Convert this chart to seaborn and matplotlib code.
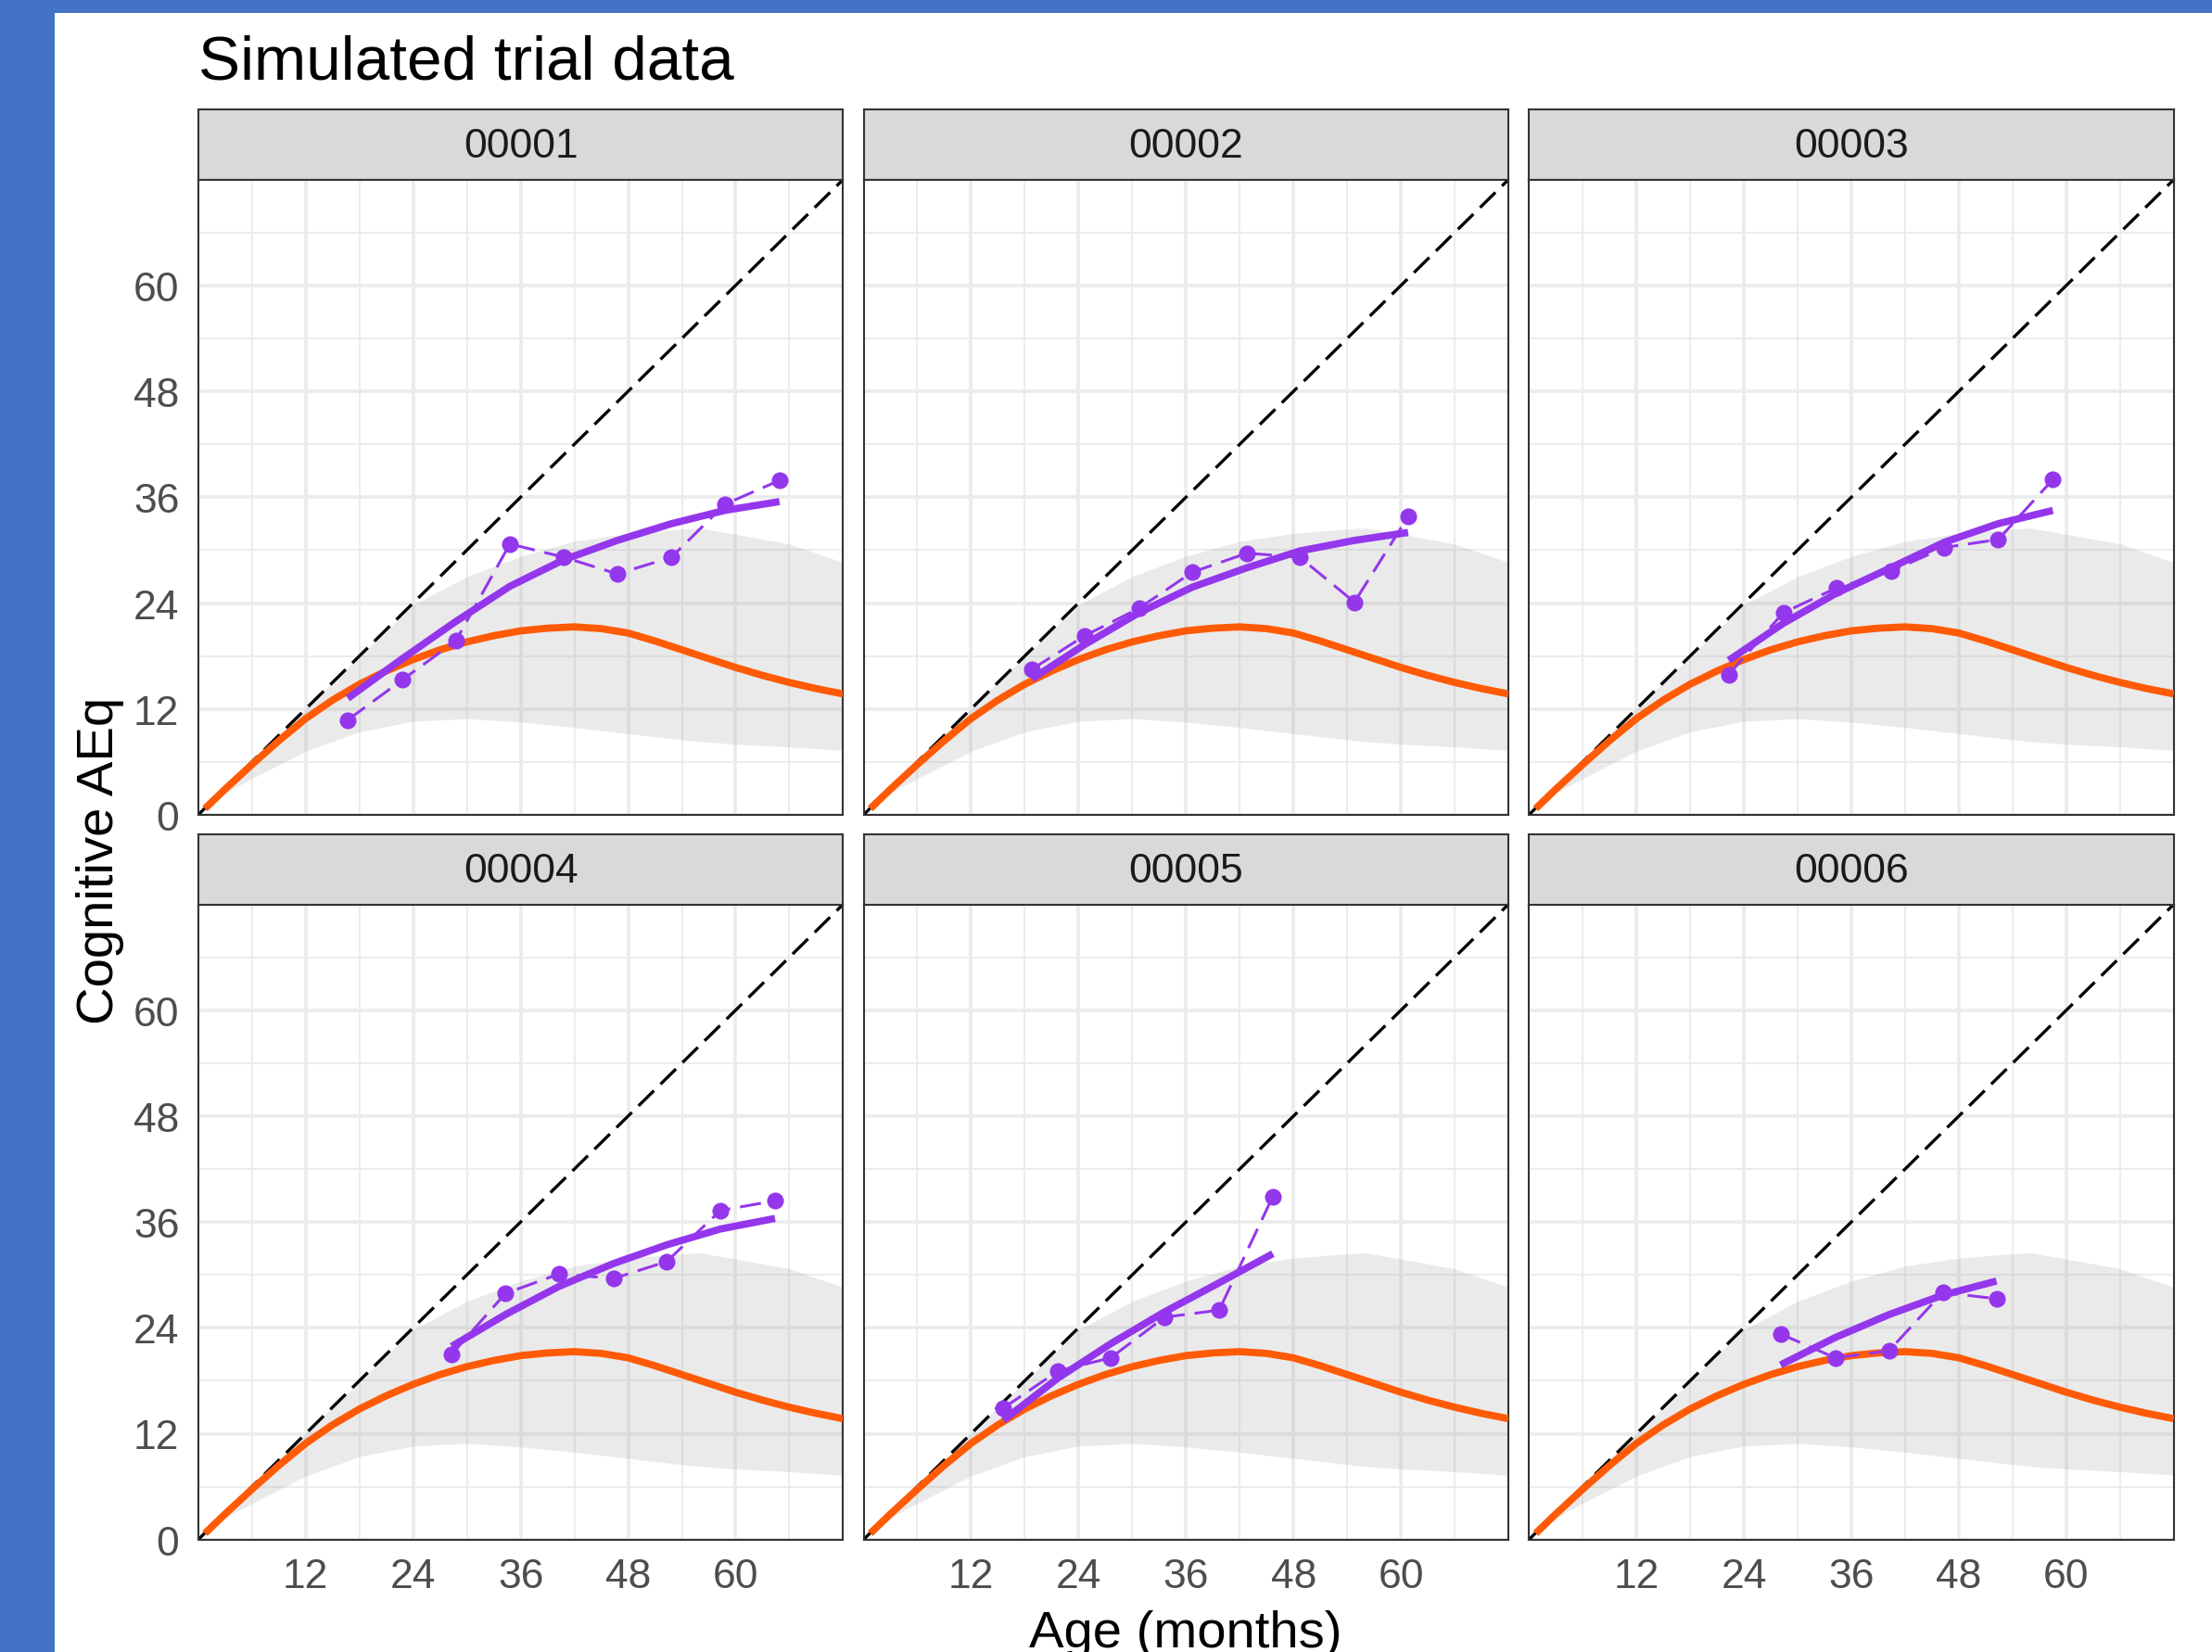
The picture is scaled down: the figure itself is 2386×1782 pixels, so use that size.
import numpy as np
import pandas as pd
import matplotlib
matplotlib.use("Agg")
import matplotlib.pyplot as plt
import seaborn as sns
from matplotlib.patches import Rectangle

# ---------------- data ----------------
participants = ["00001", "00002", "00003", "00004", "00005", "00006"]

# reference (population) curve, orange
ref_age = [0.75, 3, 6, 9, 12, 15, 18, 21, 24, 27, 30, 33, 36, 39, 42, 45, 48,
           51, 54, 57, 60, 63, 66, 69, 72]
ref_aeq = [0.7, 2.9, 5.7, 8.4, 10.9, 13.0, 14.8, 16.3, 17.6, 18.7, 19.6, 20.3,
           20.85, 21.15, 21.3, 21.1, 20.6, 19.7, 18.7, 17.7, 16.7, 15.8, 15.0,
           14.3, 13.7]

# reference band (grey ribbon)
band_age = [0, 3, 6, 12, 18, 24, 30, 36, 42, 48, 54, 56, 60, 66, 72]
band_lower = [0, 2.5, 4.1, 7.2, 9.4, 10.6, 10.9, 10.5, 9.9, 9.2, 8.5, 8.3, 8.0, 7.7, 7.3]
band_upper = [0, 3.05, 6.1, 12.1, 17.9, 23.8, 27.0, 29.3, 31.0, 31.9, 32.4, 32.5, 31.8, 30.7, 28.6]

# per participant: observation ages, observed AEq, fitted AEq
age_00001 = [16.7, 22.8, 28.75, 34.8, 40.8, 46.8, 52.85, 58.8, 64.9]
obs_00001 = [10.75, 15.3, 19.7, 30.7, 29.2, 27.3, 29.2, 35.2, 37.9]
fit_00001 = [13.2, 17.7, 21.9, 25.9, 28.9, 31.1, 33.0, 34.5, 35.5]

age_00002 = [18.8, 24.7, 30.75, 36.7, 42.8, 48.7, 54.8, 60.8]
obs_00002 = [16.5, 20.3, 23.4, 27.5, 29.65, 29.2, 24.1, 33.8]
fit_00002 = [15.4, 19.3, 22.9, 25.8, 28.0, 29.9, 31.1, 32.0]

age_00003 = [22.3, 28.4, 34.3, 40.4, 46.4, 52.4, 58.5]
obs_00003 = [15.9, 22.9, 25.7, 27.6, 30.3, 31.2, 38.0]
fit_00003 = [17.5, 21.7, 25.1, 28.0, 30.9, 33.0, 34.5]

age_00004 = [28.3, 34.3, 40.3, 46.4, 52.3, 58.3, 64.4]
obs_00004 = [21.0, 27.9, 30.1, 29.6, 31.5, 37.3, 38.4]
fit_00004 = [21.9, 25.5, 28.7, 31.3, 33.4, 35.2, 36.4]

age_00005 = [15.6, 21.7, 27.6, 33.6, 39.7, 45.7]
obs_00005 = [14.9, 19.1, 20.6, 25.2, 26.0, 38.9]
fit_00005 = [13.5, 18.3, 22.2, 25.8, 29.1, 32.4]

age_00006 = [28.1, 34.2, 40.2, 46.2, 52.2]
obs_00006 = [23.3, 20.6, 21.4, 28.0, 27.3]
fit_00006 = [19.8, 22.9, 25.5, 27.7, 29.3]

x_breaks = [12, 24, 36, 48, 60]
x_minor = [6, 18, 30, 42, 54, 66]
y_breaks = [0, 12, 24, 36, 48, 60]
y_minor = [6, 18, 30, 42, 54, 66]

# ---------------- tables ----------------
ages = [age_00001, age_00002, age_00003, age_00004, age_00005, age_00006]
obss = [obs_00001, obs_00002, obs_00003, obs_00004, obs_00005, obs_00006]
fits = [fit_00001, fit_00002, fit_00003, fit_00004, fit_00005, fit_00006]
rows = []
for pid, a, o, f in zip(participants, ages, obss, fits):
    for ai, oi, fi in zip(a, o, f):
        rows.append({"id": pid, "age": ai, "obs": oi, "fit": fi})
df = pd.DataFrame(rows)
ref_df = pd.DataFrame({"age": ref_age, "aeq": ref_aeq})

# ---------------- style ----------------
sns.set_style("white")
plt.rcParams["font.family"] = ["Liberation Sans", "DejaVu Sans"]
plt.rcParams["lines.solid_capstyle"] = "butt"

W, H, DPI = 2386, 1783, 100
PURPLE = "#9437EC"
ORANGE = "#FF5A05"
GRID = "#EBEBEB"
DARK = "#333333"

fig = plt.figure(figsize=(W / DPI, H / DPI), dpi=DPI, facecolor="#4472C4")
fig.patches.append(Rectangle((59 / W, 0), 1 - 59 / W, 1 - 15 / H,
                             transform=fig.transFigure, facecolor="white",
                             edgecolor="none", zorder=-5))

col_left = [213.8, 931.5, 1649.2]
pw = 695.6
row_top = [194.7, 976.5]
ph = 685.2
strip_h = 76

for i, pid in enumerate(participants):
    r, c = divmod(i, 3)
    x0 = col_left[c]
    y0 = row_top[r]
    ax = fig.add_axes([x0 / W, 1 - (y0 + ph) / H, pw / W, ph / H])
    sax = fig.add_axes([x0 / W, 1 - y0 / H, pw / W, strip_h / H])

    # strip
    sax.set_facecolor("#D9D9D9")
    sax.set_xticks([]); sax.set_yticks([])
    for s in sax.spines.values():
        s.set_color(DARK); s.set_linewidth(1.5); s.set_visible(True)
    sax.text(0.5, 0.47, pid, ha="center", va="center", fontsize=32,
             color="#1A1A1A", transform=sax.transAxes)

    # panel
    ax.set_facecolor("white")
    ax.set_xlim(0, 72); ax.set_ylim(0, 72)
    ax.set_xticks(x_breaks); ax.set_xticks(x_minor, minor=True)
    ax.set_yticks(y_breaks); ax.set_yticks(y_minor, minor=True)
    ax.set_axisbelow(True)
    ax.grid(which="major", color=GRID, linewidth=2.6)
    ax.grid(which="minor", color=GRID, linewidth=1.3)

    ax.fill_between(band_age, band_lower, band_upper, color="#999999",
                    alpha=0.2, linewidth=0, zorder=1)
    ax.axline((0, 0), slope=1, color="black", linewidth=2.4,
              linestyle=(0, (7.0, 3.0)), zorder=2)

    sns.lineplot(data=ref_df, x="age", y="aeq", color=ORANGE, linewidth=5.6,
                 estimator=None, sort=False, ax=ax, zorder=3)
    sub = df[df["id"] == pid]
    sns.lineplot(data=sub, x="age", y="obs", color=PURPLE, linewidth=2.2,
                 linestyle=(0, (7.5, 3.5)), estimator=None, sort=False,
                 ax=ax, zorder=4)
    sns.lineplot(data=sub, x="age", y="fit", color=PURPLE, linewidth=5.6,
                 estimator=None, sort=False, ax=ax, zorder=5)
    sns.scatterplot(data=sub, x="age", y="obs", color=PURPLE, s=170,
                    linewidth=0, ax=ax, zorder=6)
    ax.set_xlabel(""); ax.set_ylabel("")

    for s in ax.spines.values():
        s.set_color(DARK); s.set_linewidth(1.5); s.set_visible(True)

    ax.tick_params(which="minor", length=0)
    ax.tick_params(axis="both", which="major", length=7.7, width=1.4,
                   color=DARK, labelsize=32, labelcolor="#4D4D4D", pad=7)
    if c != 0:
        ax.tick_params(axis="y", which="major", length=0, labelleft=False)
    if r != 1:
        ax.tick_params(axis="x", which="major", length=0, labelbottom=False)
    else:
        ax.tick_params(axis="x", which="major", pad=6)

fig.text(213.8 / W, 1 - 85 / H, "Simulated trial data", fontsize=48.6,
         ha="left", va="baseline", color="black")
fig.text(1279 / W, 1 - 1777 / H, "Age (months)", fontsize=40.5,
         ha="center", va="baseline", color="black")
fig.text(122 / W, 1 - 928 / H, "Cognitive AEq", fontsize=40.5, rotation=90,
         rotation_mode="anchor", ha="center", va="baseline", color="black")

fig.savefig("out.png", dpi=DPI, facecolor=fig.get_facecolor())
